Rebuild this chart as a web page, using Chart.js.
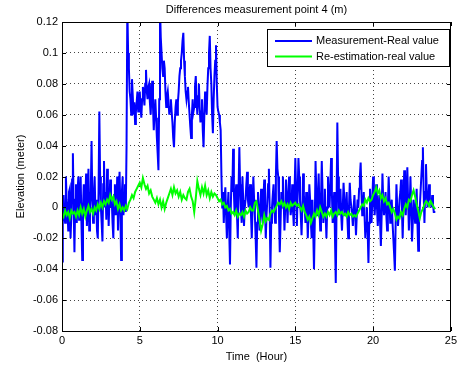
<!DOCTYPE html>
<html>
<head>
<meta charset="utf-8">
<script src="https://cdn.jsdelivr.net/npm/chart.js@4.4.1/dist/chart.umd.min.js"></script>
<style>
  html, body { margin: 0; padding: 0; background: #fff; }
  #wrap { width: 460px; height: 370px; }
</style>
</head>
<body>
<div id="wrap"><canvas id="diff" width="460" height="370"></canvas></div>
<script>
// sample intervals of the two records, in hours
const measStep = 0.05;
const reestStep = 0.1;

// Measurement - Real value (m), one row per hour
const measured = [
  -0.035, -0.01, 0.008, -0.005, -0.01, 0.02, 0.005, 0.0, -0.015, 0.01, 0.012, -0.02, -0.005, 0.018, 0.035, 0.0, -0.029, 0.005, 0.015, -0.01,
  0.01, 0.02, -0.008, 0.005, 0.02, -0.01, -0.034, 0.0, 0.015, -0.005, 0.005, 0.022, -0.012, 0.0, 0.025, -0.015, 0.0, 0.01, 0.043, 0.005,
  -0.01, 0.008, 0.02, -0.005, 0.005, -0.015, -0.02, 0.01, 0.062, 0.02, 0.0, -0.01, -0.022, 0.015, 0.03, 0.0, 0.01, -0.008, 0.025, 0.012,
  -0.012, 0.005, 0.018, 0.0, 0.005, -0.01, -0.02, 0.008, 0.015, -0.005, 0.0, 0.02, -0.015, 0.005, 0.023, 0.0, -0.034, 0.01, 0.02, -0.005,
  0.005, 0.015, -0.003, 0.04, 0.13, 0.1, 0.09, 0.075, 0.07, 0.06, 0.083, 0.072, 0.06, 0.068, 0.054, 0.062, 0.068, 0.075, 0.062, 0.07,
  0.075, 0.065, 0.058, 0.07, 0.078, 0.072, 0.066, 0.08, 0.089, 0.075, 0.07, 0.078, 0.08, 0.068, 0.06, 0.072, 0.082, 0.065, 0.05, 0.062,
  0.07, 0.058, 0.045, 0.035, 0.024, 0.07, 0.13, 0.11, 0.1, 0.09, 0.085, 0.095, 0.09, 0.075, 0.065, 0.072, 0.075, 0.068, 0.06, 0.065,
  0.07, 0.062, 0.055, 0.045, 0.039, 0.055, 0.065, 0.07, 0.06, 0.068, 0.075, 0.085, 0.09, 0.095, 0.1, 0.108, 0.113, 0.095, 0.085, 0.075,
  0.07, 0.075, 0.078, 0.068, 0.06, 0.052, 0.045, 0.06, 0.07, 0.062, 0.065, 0.078, 0.085, 0.07, 0.06, 0.072, 0.08, 0.065, 0.055, 0.062,
  0.07, 0.05, 0.039, 0.06, 0.075, 0.068, 0.06, 0.078, 0.09, 0.1, 0.111, 0.09, 0.08, 0.06, 0.048, 0.07, 0.085, 0.095, 0.105, 0.08,
  0.065, 0.062, 0.06, 0.055, 0.05, 0.02, 0.0, 0.01, -0.01, 0.005, 0.013, -0.005, -0.02, 0.0, 0.01, -0.015, -0.037, 0.0, 0.02, 0.01,
  0.038, 0.01, -0.005, 0.008, 0.015, -0.005, -0.02, 0.01, 0.039, 0.015, 0.0, -0.01, 0.02, 0.005, -0.012, 0.0, 0.005, 0.015, 0.023, 0.005,
  0.0, 0.01, 0.015, -0.005, -0.02, 0.0, 0.02, 0.005, -0.005, -0.02, -0.039, -0.01, 0.01, 0.0, -0.015, -0.005, 0.012, 0.0, -0.01, 0.005,
  0.018, 0.0, -0.02, -0.005, 0.005, 0.015, 0.025, 0.0, -0.039, -0.01, 0.0, 0.008, 0.015, 0.0, -0.01, 0.02, 0.043, 0.025, 0.02, -0.005,
  -0.029, -0.01, 0.01, 0.0, 0.02, 0.005, -0.015, 0.0, 0.018, 0.005, -0.01, 0.008, 0.02, 0.005, -0.005, 0.0, 0.015, -0.002, -0.012, 0.01,
  0.032, 0.01, -0.012, 0.01, 0.032, 0.02, 0.005, -0.005, -0.018, 0.0, 0.022, 0.008, 0.0, -0.01, 0.01, 0.0, -0.02, -0.005, 0.015, 0.005,
  -0.01, -0.02, 0.005, -0.015, -0.04, -0.01, 0.03, 0.01, -0.005, 0.005, 0.022, 0.0, -0.015, 0.005, 0.03, 0.01, -0.01, 0.0, 0.012, -0.005,
  -0.02, 0.0, 0.02, 0.005, 0.0, 0.015, 0.032, 0.01, -0.01, 0.0, 0.01, -0.02, -0.049, 0.0, 0.055, 0.02, -0.005, 0.005, 0.012, -0.005,
  -0.015, 0.0, 0.016, 0.005, -0.005, 0.0, 0.01, -0.008, -0.02, 0.0, 0.016, 0.005, 0.0, -0.005, -0.012, 0.0, 0.008, -0.005, -0.018, -0.005,
  0.005, 0.0, 0.012, 0.02, 0.029, 0.01, -0.005, 0.0, 0.01, -0.005, -0.02, -0.01, 0.0, -0.015, -0.036, -0.01, 0.012, 0.0, -0.01, 0.005,
  0.02, 0.005, -0.005, 0.005, 0.015, 0.0, -0.012, 0.0, 0.008, -0.01, -0.025, -0.005, 0.022, 0.005, -0.005, 0.0, 0.01, -0.005, -0.015, 0.0,
  0.02, 0.005, -0.01, 0.0, 0.005, -0.01, -0.02, -0.03, -0.041, -0.01, 0.015, 0.0, -0.012, -0.005, 0.005, 0.01, 0.018, 0.0, -0.02, 0.0,
  0.024, 0.005, -0.005, 0.01, 0.026, 0.005, -0.015, 0.0, 0.02, 0.0, -0.022, -0.01, 0.005, 0.0, -0.01, 0.0, 0.012, -0.01, -0.028, -0.01,
  0.0, 0.01, 0.02, 0.03, 0.039, 0.01, -0.01, 0.01, 0.028, 0.01, 0.0, 0.005, 0.015, 0.005, 0.005, 0.0, 0.008, 0.002, -0.003, -0.003,
  -0.003
];

// Re-estimation - real value (m), one row per hour
const reestimated = [
  -0.004, -0.006, -0.002, -0.005, -0.003, -0.007, -0.002, -0.004, -0.003, -0.006,
  -0.002, -0.005, 0.0, -0.004, -0.001, -0.006, -0.002, 0.001, -0.003, -0.001,
  -0.004, 0.0, -0.002, 0.002, -0.001, 0.003, 0.0, 0.004, 0.002, 0.005,
  0.003, 0.008, 0.005, 0.007, 0.002, 0.004, -0.001, 0.002, -0.002, 0.0,
  -0.002, 0.001, -0.001, 0.003, 0.005, 0.008, 0.006, 0.01, 0.012, 0.014,
  0.016, 0.013, 0.019, 0.015, 0.012, 0.014, 0.009, 0.011, 0.007, 0.005,
  0.003, 0.006, 0.002, 0.005, 0.0, 0.004, -0.001, 0.003, 0.006, 0.009,
  0.012, 0.008, 0.013, 0.009, 0.011, 0.007, 0.01, 0.005, 0.008, 0.006,
  0.005, 0.01, 0.012, 0.007, 0.004, -0.003, 0.006, 0.017, 0.012, 0.008,
  0.013, 0.009, 0.014, 0.008, 0.011, 0.006, 0.01, 0.007, 0.009, 0.008,
  0.006, 0.004, 0.005, 0.002, 0.003, 0.0, 0.001, -0.002, -0.001, -0.004,
  -0.003, -0.005, -0.002, -0.006, -0.004, -0.005, -0.003, -0.006, -0.002, -0.004,
  -0.003, 0.0, -0.002, -0.002, 0.003, 0.004, -0.002, -0.008, -0.015, -0.011,
  -0.005, -0.009, -0.007, -0.008, -0.004, -0.002, -0.003, -0.001, 0.001, 0.003,
  0.002, 0.004, 0.001, 0.003, 0.0, 0.002, -0.001, 0.003, 0.001, 0.002,
  0.003, 0.001, 0.002, 0.0, -0.002, 0.001, -0.003, -0.005, -0.008, -0.006,
  -0.01, -0.007, -0.004, -0.006, -0.002, -0.005, 0.0, -0.003, -0.006, -0.004,
  -0.006, -0.003, -0.005, -0.002, -0.006, -0.004, -0.003, -0.005, -0.002, -0.004,
  -0.003, -0.005, -0.004, -0.006, -0.003, -0.005, -0.004, -0.006, -0.005, -0.006,
  -0.004, -0.002, 0.0, 0.002, 0.001, 0.005, 0.003, 0.006, 0.004, 0.005,
  0.008, 0.01, 0.013, 0.009, 0.011, 0.006, 0.008, 0.004, 0.006, 0.002,
  0.003, 0.0, -0.003, -0.001, -0.004, -0.008, -0.006, -0.007, -0.003, -0.005,
  -0.001, 0.002, 0.0, 0.005, 0.004, 0.008, 0.011, 0.007, 0.002, -0.002,
  -0.007, -0.003, -0.001, 0.002, 0.004, 0.003, 0.001, 0.004, 0.002, 0.0,
  -0.001
];

const seriesNames = ['Measurement-Real value', 'Re-estimation-real value'];
const xTicks = [0, 5, 10, 15, 20, 25];
const yTicks = [-0.08, -0.06, -0.04, -0.02, 0, 0.02, 0.04, 0.06, 0.08, 0.1, 0.12];

const toPoints = (vals, dt) => vals.map((v, i) => ({ x: +(i * dt).toFixed(2), y: v }));

const FONT = '"Liberation Sans", Arial, sans-serif';
const colours = ['#0000ff', '#00ff00'];

// matlab style frame: box, inward ticks, legend inside, title
const frame = {
  id: 'frame',
  afterDraw(chart) {
    const ctx = chart.ctx;
    const a = chart.chartArea;
    const xs = chart.scales.x, ys = chart.scales.y;
    ctx.save();
    ctx.strokeStyle = '#000';
    ctx.lineWidth = 1;
    ctx.beginPath();
    xTicks.forEach(t => {
      const px = Math.round(xs.getPixelForValue(t)) + 0.5;
      ctx.moveTo(px, a.bottom); ctx.lineTo(px, a.bottom - 4);
      ctx.moveTo(px, a.top); ctx.lineTo(px, a.top + 4);
    });
    yTicks.forEach(t => {
      const py = Math.round(ys.getPixelForValue(t)) + 0.5;
      ctx.moveTo(a.left, py); ctx.lineTo(a.left + 4, py);
      ctx.moveTo(a.right, py); ctx.lineTo(a.right - 4, py);
    });
    ctx.stroke();
    ctx.strokeRect(Math.round(a.left) + 0.5, Math.round(a.top) + 0.5,
      Math.round(a.right - a.left) - 1, Math.round(a.bottom - a.top));

    // title
    ctx.fillStyle = '#000';
    ctx.font = '11px ' + FONT;
    ctx.textAlign = 'center';
    ctx.textBaseline = 'middle';
    ctx.fillText('Differences measurement point 4 (m)', (a.left + a.right) / 2, 10);

    // legend
    const bx = 267.5, by = 29.5, bw = 182, bh = 37;
    ctx.fillStyle = '#fff';
    ctx.fillRect(bx, by, bw, bh);
    ctx.strokeStyle = '#000';
    ctx.strokeRect(bx, by, bw, bh);
    seriesNames.forEach((name, i) => {
      const ry = 41 + i * 15.5;
      ctx.strokeStyle = colours[i];
      ctx.lineWidth = 2;
      ctx.beginPath();
      ctx.moveTo(275, ry); ctx.lineTo(312, ry);
      ctx.stroke();
      ctx.fillStyle = '#000';
      ctx.textAlign = 'left';
      ctx.fillText(name, 316, ry);
    });
    ctx.restore();
  }
};

new Chart(document.getElementById('diff'), {
  type: 'line',
  data: {
    datasets: [
      {
        label: seriesNames[0],
        data: toPoints(measured, measStep),
        borderColor: colours[0],
        borderWidth: 2,
        pointRadius: 0,
        tension: 0,
        order: 2
      },
      {
        label: seriesNames[1],
        data: toPoints(reestimated, reestStep),
        borderColor: colours[1],
        borderWidth: 2,
        pointRadius: 0,
        tension: 0,
        order: 1
      }
    ]
  },
  options: {
    responsive: false,
    animation: false,
    layout: { padding: { top: 22, right: 7, left: 0, bottom: 0 } },
    plugins: {
      legend: { display: false },
      tooltip: { enabled: false }
    },
    scales: {
      x: {
        type: 'linear',
        min: 0,
        max: 25,
        afterFit: s => { s.height = 39; },
        afterBuildTicks: s => { s.ticks = xTicks.map(v => ({ value: v })); },
        grid: { color: '#444', drawTicks: false },
        border: { display: false, dash: [1, 3] },
        ticks: { color: '#000', padding: 3, font: { family: FONT, size: 11 }, maxRotation: 0 },
        title: { display: true, text: 'Time  (Hour)', color: '#000', font: { family: FONT, size: 11 }, padding: { top: 0, bottom: 6 } }
      },
      y: {
        min: -0.08,
        max: 0.12,
        afterFit: s => { s.width = 62; },
        afterBuildTicks: s => { s.ticks = yTicks.map(v => ({ value: v })); },
        grid: { color: '#444', drawTicks: false },
        border: { display: false, dash: [1, 3] },
        ticks: {
          color: '#000', padding: 4, font: { family: FONT, size: 11 },
          callback: v => String(+v.toFixed(2))
        },
        title: { display: true, text: 'Elevation (meter)', color: '#000', font: { family: FONT, size: 11 }, padding: { top: 14, bottom: 0 } }
      }
    }
  },
  plugins: [frame]
});
</script>
</body>
</html>
